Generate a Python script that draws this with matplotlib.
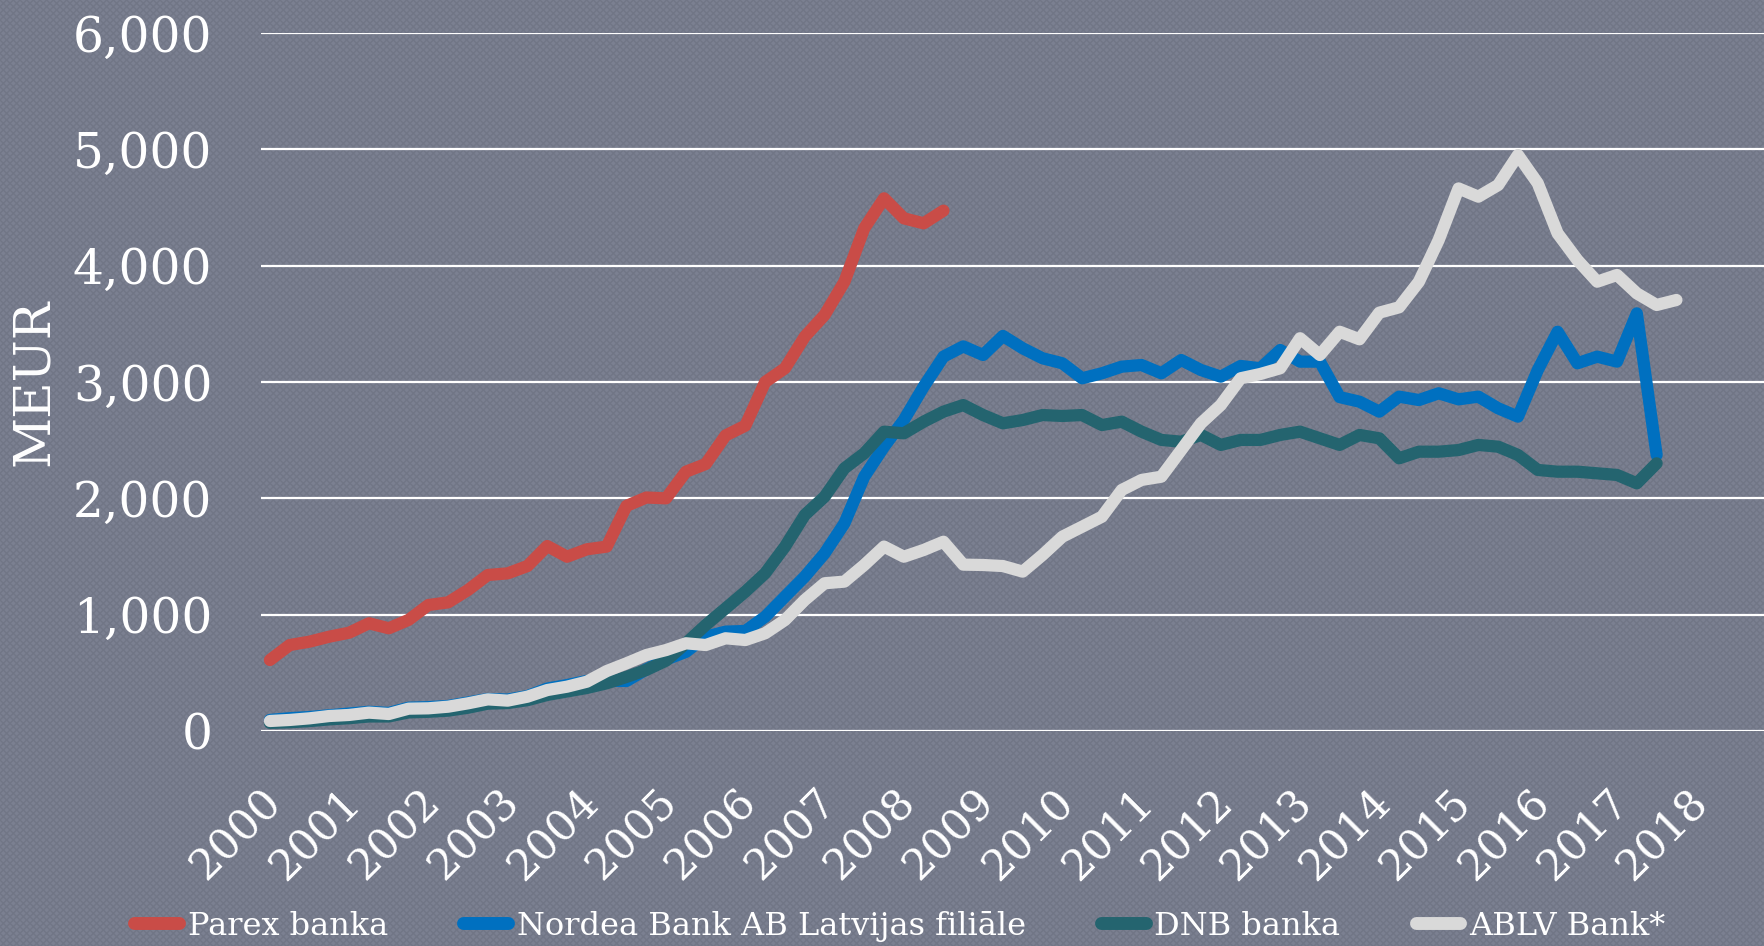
#!/usr/bin/env python3

import numpy as np
import matplotlib
matplotlib.use("Agg")
import matplotlib.pyplot as plt
from matplotlib.patches import Rectangle
from matplotlib.ticker import FuncFormatter
from matplotlib.transforms import ScaledTranslation

# ----------------------------
# Data: quarterly deposits, MEUR (2000 Q1 ...)
# ----------------------------
YEARS = list(range(2000, 2019))
N_QUARTERS = 76  # 2000 Q1 .. 2018 Q4

PAREX = [610, 739, 768, 811, 845, 926, 883, 955, 1083, 1106,
         1212, 1341, 1355, 1418, 1590, 1498, 1562, 1585, 1935, 2007,
         2000, 2229, 2295, 2540, 2625, 3000, 3118, 3390, 3576, 3862,
         4321, 4579, 4407, 4364, 4473]

NORDEA = [95, 110, 120, 135, 150, 165, 155, 200, 205, 215,
          245, 275, 270, 300, 365, 395, 430, 430, 430, 530,
          615, 680, 811, 854, 860, 982, 1155, 1327, 1527, 1785,
          2186, 2444, 2673, 2960, 3218, 3306, 3232, 3396, 3290, 3204,
          3161, 3032, 3075, 3132, 3146, 3075, 3189, 3103, 3046, 3138,
          3118, 3275, 3175, 3175, 2870, 2831, 2745, 2874, 2845, 2903,
          2851, 2874, 2774, 2702, 3103, 3432, 3161, 3218, 3175, 3590,
          2373]

DNB = [70, 75, 85, 100, 110, 125, 125, 160, 165, 175,
       200, 235, 240, 265, 310, 340, 370, 410, 465, 525,
       605, 754, 911, 1054, 1198, 1356, 1585, 1857, 2014, 2258,
       2387, 2573, 2559, 2659, 2745, 2802, 2716, 2645, 2673, 2716,
       2708, 2716, 2630, 2659, 2573, 2502, 2487, 2545, 2459, 2502,
       2502, 2545, 2573, 2516, 2459, 2545, 2516, 2344, 2401, 2401,
       2415, 2459, 2444, 2373, 2244, 2229, 2229, 2215, 2201, 2129,
       2301]

ABLV = [86, 95, 109, 129, 138, 158, 146, 192, 195, 209,
        238, 272, 261, 295, 352, 381, 424, 515, 582, 653,
        696, 754, 739, 797, 782, 840, 954, 1126, 1270, 1284,
        1427, 1585, 1498, 1556, 1627, 1430, 1427, 1418, 1370, 1513,
        1670, 1756, 1842, 2072, 2158, 2186, 2415, 2645, 2802, 3032,
        3069, 3118, 3376, 3232, 3432, 3367, 3596, 3642, 3862, 4221,
        4664, 4593, 4693, 4951, 4708, 4278, 4049, 3862, 3920, 3762,
        3662, 3705]

SERIES = [
    ("Parex banka", PAREX, "#c94c47"),
    ("Nordea Bank AB Latvijas filiāle", NORDEA, "#0070c0"),
    ("DNB banka", DNB, "#24646f"),
    ("ABLV Bank*", ABLV, "#d9d9d9"),
]

# ----------------------------
# Style
# ----------------------------
BG = "#7b8091"
W, H, DPI = 1764, 946, 100
FONT = "DejaVu Serif"
LW = 8.8

plt.rcParams["font.family"] = FONT

fig = plt.figure(figsize=(W / DPI, H / DPI), dpi=DPI, facecolor=BG)

# textured background, roughly like the original pattern
fig.patches.append(Rectangle((0, 0), 1, 1, transform=fig.transFigure,
                             facecolor=BG, edgecolor="#717686", hatch="xxxxx",
                             linewidth=0, zorder=-10))

ax = fig.add_axes([261 / W, 1 - 731 / H, (W - 261) / W, (731 - 33) / H])
ax.set_facecolor("none")

for name, vals, col in SERIES:
    x = np.arange(len(vals))
    ax.plot(x, vals, color=col, lw=LW, label=name,
            solid_capstyle="round", solid_joinstyle="round")

ax.set_xlim(-0.45, N_QUARTERS - 0.58)
ax.set_ylim(0, 6000)
ax.set_yticks(np.arange(0, 6001, 1000))
ax.yaxis.set_major_formatter(FuncFormatter(lambda v, p: f"{int(v):,}"))
ax.grid(axis="y", color="white", lw=1.6)
ax.set_axisbelow(True)

for s in ax.spines.values():
    s.set_visible(False)

ax.tick_params(axis="y", length=0, pad=35, labelsize=35, labelcolor="white")
ax.tick_params(axis="x", length=0, pad=36, labelsize=31, labelcolor="white")

ax.set_xticks(np.arange(0, 4 * len(YEARS), 4))
ax.set_xticklabels([str(y) for y in YEARS], rotation=45, ha="right",
                   va="top", rotation_mode="anchor")
offset = ScaledTranslation(-10 / DPI, 0, fig.dpi_scale_trans)
for lbl in ax.get_xticklabels():
    lbl.set_transform(lbl.get_transform() + offset)

fig.text(34 / W, 1 - 382 / H, "MEUR", rotation=90, ha="center", va="center",
         fontsize=36, color="white")

leg = fig.legend(loc="center", bbox_to_anchor=(0.51, 1 - 926 / H),
                 ncol=4, frameon=False, fontsize=23, labelcolor="white",
                 handlelength=1.4, handletextpad=0.28, columnspacing=2.35,
                 borderpad=0)
for line in leg.get_lines():
    line.set_linewidth(LW + 0.5)
    line.set_solid_capstyle("round")

fig.savefig("out.png", dpi=DPI, facecolor=BG)
